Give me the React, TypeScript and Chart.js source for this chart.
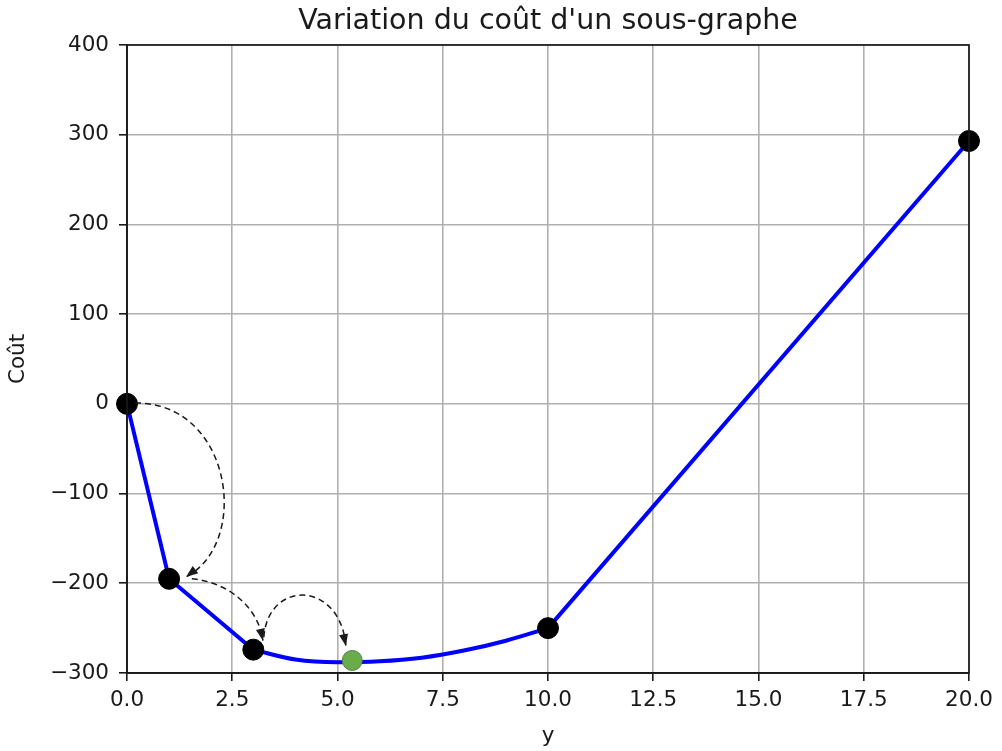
import { useEffect, useRef } from 'react';
import { Chart, registerables } from 'chart.js';

Chart.register(...registerables);

// Cost curve of the sub-graph as a function of y
const pathY = [0, 1, 3, 4, 5, 6, 7, 8, 9, 10, 20];
const pathCost = [0, -195, -274, -285, -288, -287, -283, -275, -264, -250, 293];
// Indices where the curve is smooth (between the 3rd and the 10th sample)
const smoothFrom = 2;
const smoothTo = 9;

// Evaluated configurations (black markers)
const visitedY = [0, 1, 3, 10, 20];
const visitedCost = [0, -195, -274, -250, 293];

// Retained optimum (green marker)
const optimumY = [5.35];
const optimumCost = [-286];

// Axis ranges and tick spacing
const xMin = 0;
const xMax = 20;
const xStep = 2.5;
const yMin = -300;
const yMax = 400;
const yStep = 100;

const titleText = "Variation du coût d'un sous-graphe";
const xLabel = 'y';
const yLabel = 'Coût';

// Dashed jump arrows: cubic Bézier control points in data units (start, c1, c2, tip)
const jumpPaths: [number, number][][] = [
  [[0.19, 1], [2.5, 2], [2.95, -155], [1.4, -193]],
  [[1.54, -195], [2.33, -198], [3.11, -224], [3.23, -264]],
  [[3.25, -260], [3.35, -196], [5.06, -196], [5.2, -270]],
];

const FONT = "'DejaVu Sans', sans-serif";
const INK = '#1a1a1a';
const BLUE = '#0000ff';

const toPoints = (xs: number[], ys: number[]) => xs.map((x, i) => ({ x, y: ys[i] }));

function bez(p: number[][], t: number) {
  const u = 1 - t;
  const a = u * u * u, b = 3 * u * u * t, c = 3 * u * t * t, d = t * t * t;
  return [
    a * p[0][0] + b * p[1][0] + c * p[2][0] + d * p[3][0],
    a * p[0][1] + b * p[1][1] + c * p[2][1] + d * p[3][1],
  ];
}

const framePlugin = {
  id: 'frame',
  afterDatasetsDraw(chart: any) {
    const { ctx, chartArea: a } = chart;
    ctx.save();
    ctx.strokeStyle = INK;
    ctx.lineWidth = 1.7;
    ctx.strokeRect(a.left, a.top, a.right - a.left, a.bottom - a.top);
    ctx.restore();
  },
};

const arrowsPlugin = {
  id: 'jumpArrows',
  afterDatasetsDraw(chart: any) {
    const { ctx } = chart;
    const xs = chart.scales.x;
    const ys = chart.scales.y;
    ctx.save();
    for (const path of jumpPaths) {
      const p = path.map(([vx, vy]) => [xs.getPixelForValue(vx), ys.getPixelForValue(vy)]);
      ctx.setLineDash([6, 4]);
      ctx.lineWidth = 1.5;
      ctx.strokeStyle = INK;
      ctx.beginPath();
      ctx.moveTo(p[0][0], p[0][1]);
      ctx.bezierCurveTo(p[1][0], p[1][1], p[2][0], p[2][1], p[3][0], p[3][1]);
      ctx.stroke();
      // arrow head aligned with the curve near its tip
      const near = bez(p, 0.9);
      const tip = p[3];
      const dx = tip[0] - near[0];
      const dy = tip[1] - near[1];
      const len = Math.hypot(dx, dy) || 1;
      const ux = dx / len, uy = dy / len;
      const head = 12, half = 4.5;
      const bx = tip[0] - ux * head, by = tip[1] - uy * head;
      ctx.setLineDash([]);
      ctx.fillStyle = INK;
      ctx.beginPath();
      ctx.moveTo(tip[0], tip[1]);
      ctx.lineTo(bx - uy * half, by + ux * half);
      ctx.lineTo(bx + uy * half, by - ux * half);
      ctx.closePath();
      ctx.fill();
    }
    ctx.restore();
  },
};

const lineStyle = {
  borderColor: BLUE,
  borderWidth: 4,
  pointRadius: 0,
  fill: false,
  clip: false,
  borderCapStyle: 'round',
  borderJoinStyle: 'round',
  order: 3,
};

export default function App() {
  const canvasRef = useRef<HTMLCanvasElement | null>(null);

  useEffect(() => {
    document.body.style.margin = '0';
    const canvas = canvasRef.current;
    if (!canvas) return;
    Chart.defaults.font.family = FONT;
    const all = toPoints(pathY, pathCost);
    const chart = new Chart(canvas, {
      type: 'line',
      data: {
        datasets: [
          {
            label: 'optimum',
            data: toPoints(optimumY, optimumCost),
            showLine: false,
            pointRadius: 10,
            pointBackgroundColor: '#6aab4e',
            pointBorderColor: '#557f48',
            pointBorderWidth: 1,
            clip: false,
            order: 1,
          },
          {
            label: 'visited',
            data: toPoints(visitedY, visitedCost),
            showLine: false,
            pointRadius: 10.5,
            pointBackgroundColor: '#000000',
            pointBorderColor: '#000000',
            pointBorderWidth: 1,
            clip: false,
            order: 2,
          },
          { label: 'cost-descent', data: all.slice(0, smoothFrom + 1), tension: 0, ...lineStyle },
          {
            label: 'cost-valley',
            data: all.slice(smoothFrom, smoothTo + 1),
            cubicInterpolationMode: 'monotone',
            ...lineStyle,
          },
          { label: 'cost-rise', data: all.slice(smoothTo), tension: 0, ...lineStyle },
        ],
      },
      options: {
        animation: false,
        responsive: false,
        layout: { padding: { left: 0, right: 33, top: 0, bottom: 0 } },
        plugins: {
          legend: { display: false },
          tooltip: { enabled: false },
          title: {
            display: true,
            text: titleText,
            fullSize: false,
            color: INK,
            font: { size: 28.5, weight: 'normal', family: FONT },
            padding: { top: 4, bottom: 6.8 },
          },
        },
        scales: {
          x: {
            type: 'linear',
            min: xMin,
            max: xMax,
            ticks: {
              stepSize: xStep,
              autoSkip: false,
              maxRotation: 0,
              color: INK,
              padding: 7,
              font: { size: 21.5, family: FONT },
              callback: (v: any) => Number(v).toFixed(1),
            },
            grid: { color: '#b0b0b0', lineWidth: 1.6, tickColor: INK, tickLength: 8, tickWidth: 1.6 },
            border: { color: INK, width: 1.7 },
            title: {
              display: true,
              text: xLabel,
              color: INK,
              font: { size: 21.5, family: FONT },
              padding: { top: 0, bottom: 2 },
            },
            afterFit: (s: any) => {
              s.height = 78;
            },
          },
          y: {
            type: 'linear',
            min: yMin,
            max: yMax,
            ticks: {
              stepSize: yStep,
              color: INK,
              padding: 10,
              font: { size: 21.5, family: FONT },
              callback: (v: any) => (Number(v) < 0 ? '\u2212' + Math.abs(Number(v)) : String(v)),
            },
            grid: { color: '#b0b0b0', lineWidth: 1.6, tickColor: INK, tickLength: 8, tickWidth: 1.6 },
            border: { color: INK, width: 1.7 },
            title: {
              display: true,
              text: yLabel,
              color: INK,
              font: { size: 21.5, family: FONT },
              padding: { top: 6, bottom: 0 },
            },
            afterFit: (s: any) => {
              s.width = 127;
            },
          },
        },
      },
      plugins: [framePlugin, arrowsPlugin],
    } as any);
    return () => chart.destroy();
  }, []);

  return (
    <div style={{ width: 1002, height: 751 }}>
      <canvas ref={canvasRef} width={1002} height={751} />
    </div>
  );
}
